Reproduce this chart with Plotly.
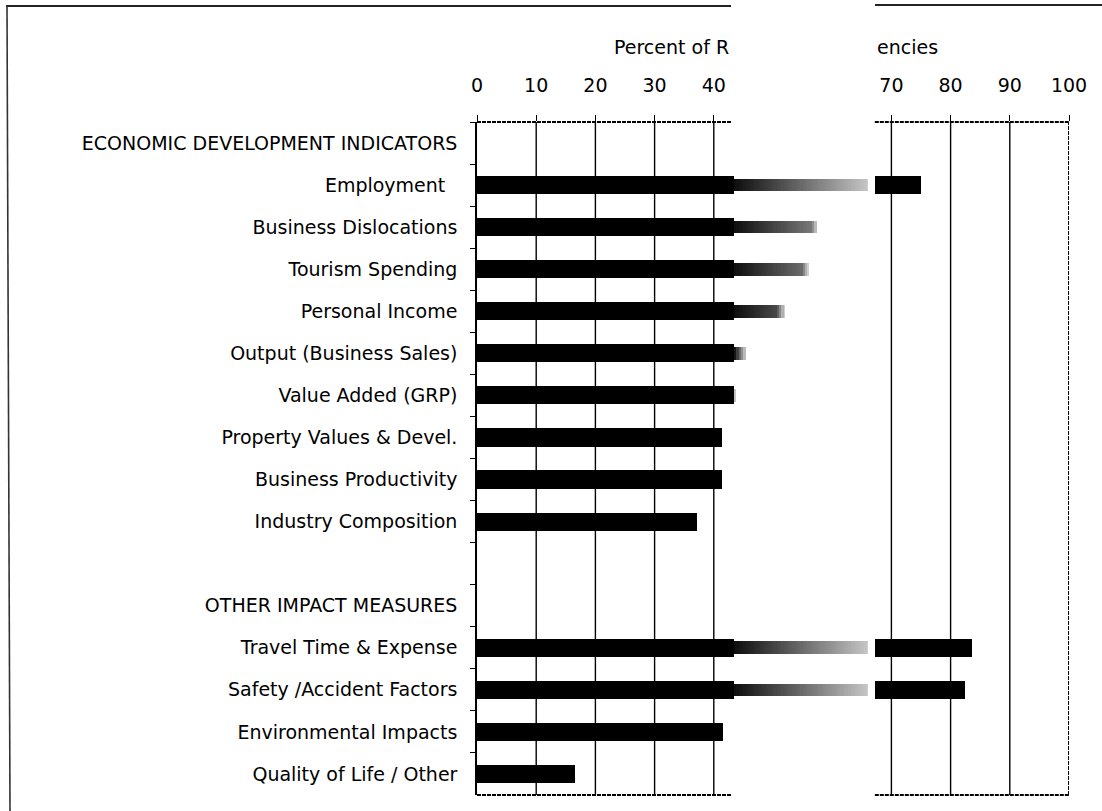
import plotly.graph_objects as go

# Row labels, top to bottom (header rows and the spacer row carry no bar)
categories = [
    "ECONOMIC DEVELOPMENT INDICATORS",
    "Employment\u00a0\u00a0",
    "Business Dislocations",
    "Tourism Spending",
    "Personal Income",
    "Output (Business Sales)",
    "Value Added (GRP)",
    "Property Values & Devel.",
    "Business Productivity",
    "Industry Composition",
    " ",
    "OTHER IMPACT MEASURES",
    "Travel Time & Expense",
    "Safety /Accident Factors",
    "Environmental Impacts",
    "Quality of Life / Other",
]

# Percent of responding agencies
percent = [None, 75.0, 57.5, 56.0, 52.0, 45.5, 43.8, 41.3, 41.3, 37.2,
           None, None, 83.6, 82.4, 41.5, 16.5]

tick_values = [0, 10, 20, 30, 40, 70, 80, 90, 100]
grid_values = [10, 20, 30, 40, 70, 80, 90]

# Faded band of the printed page (in axis units)
GAP_LO, HAZE_HI, GAP_HI = 43.4, 66.0, 67.2

# Plot-area geometry in pixels
L, R, T, B = 477, 1069, 122, 795
W, H = 1102, 811
FONT = "DejaVu Sans"


def px(x):
    return (x - L) / (R - L)


def py(y):
    return (B - y) / (B - T)


# Split each bar into a solid part, a faded part and the part past the band
solid_y, solid_base, solid_len = [], [], []
haze_y, haze_base, haze_len, haze_col = [], [], [], []
STEP = 0.4
for cat, v in zip(categories, percent):
    if v is None:
        continue
    solid_y.append(cat)
    solid_base.append(0)
    solid_len.append(min(v, GAP_LO))
    if v > GAP_LO:
        end = min(v, HAZE_HI)
        x = GAP_LO
        while x < end - 1e-9:
            seg = min(STEP, end - x)
            mid = x + seg / 2
            fade = 0.95 - 0.032 * (mid - GAP_LO)
            tip = (end - mid) / 2.5 + 0.15
            a = max(0.06, min(fade, tip, 0.95))
            haze_y.append(cat)
            haze_base.append(x)
            haze_len.append(seg)
            haze_col.append(f"rgba(0,0,0,{a:.3f})")
            x += seg
    if v > GAP_HI:
        solid_y.append(cat)
        solid_base.append(GAP_HI)
        solid_len.append(v - GAP_HI)

fig = go.Figure()

# Invisible trace so every row (including headers) exists on the axis
fig.add_trace(go.Bar(
    y=categories, x=[0] * len(categories), orientation="h",
    marker_color="rgba(0,0,0,0)", hoverinfo="skip", showlegend=False,
))
fig.add_trace(go.Bar(
    y=solid_y, x=solid_len, base=solid_base, orientation="h",
    width=0.43, marker=dict(color="black", line_width=0), showlegend=False,
))
fig.add_trace(go.Bar(
    y=haze_y, x=haze_len, base=haze_base, orientation="h",
    width=0.30, marker=dict(color=haze_col, line_width=0), showlegend=False,
))

shapes = []
# Vertical grid lines
for g in grid_values:
    shapes.append(dict(type="line", xref="x", yref="paper", x0=g, x1=g,
                       y0=0, y1=1, line=dict(color="black", width=1.4),
                       layer="below"))
# Dotted plot frame (top, bottom, right), broken across the faded band
frame = dict(color="black", width=2, dash="4px,1px")
for y0 in (0, 1):
    shapes.append(dict(type="line", xref="x", yref="paper", x0=0, x1=42.9,
                       y0=y0, y1=y0, line=frame))
    shapes.append(dict(type="line", xref="x", yref="paper", x0=GAP_HI, x1=100,
                       y0=y0, y1=y0, line=frame))
shapes.append(dict(type="line", xref="x", yref="paper", x0=100, x1=100,
                   y0=0, y1=1, line=frame))
# Outer page border
shapes.append(dict(type="line", xref="paper", yref="paper",
                   x0=px(6), x1=px(731), y0=py(6), y1=py(6),
                   line=dict(color="#222", width=2)))
shapes.append(dict(type="line", xref="paper", yref="paper",
                   x0=px(875), x1=px(W), y0=py(5), y1=py(5),
                   line=dict(color="#222", width=2)))
shapes.append(dict(type="line", xref="paper", yref="paper",
                   x0=px(7), x1=px(10), y0=py(6), y1=py(H),
                   line=dict(color="#333", width=1.6)))

annotations = [
    dict(text="Percent of R", xref="paper", yref="paper", x=px(731), y=py(47),
         xanchor="right", yanchor="middle", showarrow=False,
         font=dict(family=FONT, size=19, color="black")),
    dict(text="encies", xref="paper", yref="paper", x=px(875), y=py(47),
         xanchor="left", yanchor="middle", showarrow=False,
         font=dict(family=FONT, size=19, color="black")),
]

fig.update_layout(
    width=W, height=H,
    margin=dict(l=L, r=W - R, t=T, b=H - B, pad=0),
    paper_bgcolor="white", plot_bgcolor="white",
    barmode="overlay", bargap=0,
    shapes=shapes, annotations=annotations,
    font=dict(family=FONT, size=19, color="black"),
)
fig.update_xaxes(
    range=[0, 100], side="top", tickmode="array", tickvals=tick_values,
    ticktext=[str(t) for t in tick_values],
    showgrid=False, zeroline=False, showline=False,
    ticks="outside", ticklen=6, tickwidth=1.4, tickcolor="black",
    ticklabelstandoff=15, tickfont=dict(family=FONT, size=19, color="black"),
)
fig.update_yaxes(
    type="category", categoryorder="array", categoryarray=categories,
    autorange="reversed", tickson="boundaries",
    showgrid=False, zeroline=False, showline=True, linecolor="black",
    linewidth=1.6, ticks="outside", ticklen=5, tickwidth=1.4,
    tickcolor="black", ticklabelstandoff=14,
    tickfont=dict(family=FONT, size=19, color="black"),
)

fig.write_html("out.html")
